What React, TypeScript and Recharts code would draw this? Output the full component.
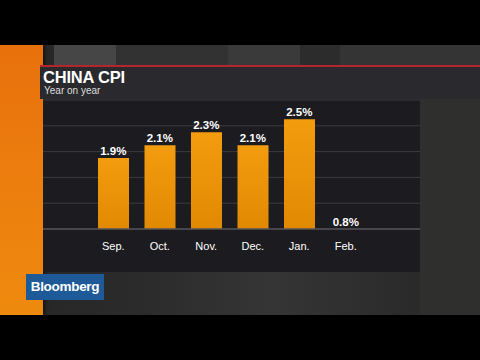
import { Bar, ComposedChart, LabelList, Line, ReferenceLine, XAxis, YAxis } from "recharts";

const months = ["Sep.", "Oct.", "Nov.", "Dec.", "Jan.", "Feb."];
const cpiYoY = [1.9, 2.1, 2.3, 2.1, 2.5, 0.8];
const gridTicks = [1.2, 1.6, 2.0, 2.4, 2.8];

const data = months.map((month, i) => ({ month, value: cpiYoY[i] }));

const font = "'Liberation Sans', Arial, sans-serif";
const W = 377;
const H = 173;
const margin = { top: 1, right: 0, bottom: 0, left: 0 };
const pad = { left: 47, right: 51 };

export default function App() {
  return (
    <div
      style={{
        position: "absolute",
        left: 0,
        top: 0,
        width: 480,
        height: 360,
        background: "#000",
        overflow: "hidden",
        fontFamily: font,
      }}
    >
      {/* studio backdrop */}
      <div
        style={{
          position: "absolute",
          left: 0,
          top: 45,
          width: 480,
          height: 270,
          background: "linear-gradient(90deg, #262626 0%, #2b2b2b 40%, #2e2f2d 100%)",
        }}
      />
      <div style={{ position: "absolute", left: 54, top: 45, width: 62, height: 21, background: "#464646" }} />
      <div style={{ position: "absolute", left: 116, top: 45, width: 112, height: 21, background: "#323232" }} />
      <div style={{ position: "absolute", left: 228, top: 45, width: 72, height: 21, background: "#3a3a3a" }} />
      <div style={{ position: "absolute", left: 300, top: 45, width: 40, height: 21, background: "#2c2c2c" }} />
      <div style={{ position: "absolute", left: 340, top: 45, width: 140, height: 21, background: "#343434" }} />
      <div style={{ position: "absolute", left: 420, top: 99, width: 60, height: 216, background: "#2f302e" }} />
      <div
        style={{
          position: "absolute",
          left: 43,
          top: 272,
          width: 377,
          height: 43,
          background: "linear-gradient(90deg, #272727 0%, #2c2c2c 30%, #353535 60%, #2a2a2a 100%)",
        }}
      />
      {/* orange strip */}
      <div
        style={{
          position: "absolute",
          left: 0,
          top: 45,
          width: 43,
          height: 270,
          background: "linear-gradient(180deg, #e8700c 0%, #ec7e0e 50%, #ee8a0e 100%)",
          boxShadow: "2px 0 3px rgba(0,0,0,0.5)",
        }}
      />
      {/* red rule and title band */}
      <div style={{ position: "absolute", left: 40, top: 65, width: 440, height: 2, background: "#b3262e" }} />
      <div style={{ position: "absolute", left: 40, top: 67, width: 440, height: 32, background: "#2a2a2e" }} />
      <div
        style={{
          position: "absolute",
          left: 43,
          top: 69,
          color: "#fff",
          fontWeight: 700,
          fontSize: 16.5,
          lineHeight: "16.5px",
          letterSpacing: -0.2,
        }}
      >
        CHINA CPI
      </div>
      <div style={{ position: "absolute", left: 44, top: 86, color: "#ddd", fontSize: 10, lineHeight: "10px" }}>
        Year on year
      </div>
      {/* chart panel */}
      <div style={{ position: "absolute", left: 43, top: 99, width: W, height: H, background: "#1c1c20" }}>
        {/* grid layer, same scales as the bars */}
        <div style={{ position: "absolute", left: 0, top: 0 }}>
          <ComposedChart width={W} height={H} data={data} margin={margin}>
            <XAxis dataKey="month" height={43} padding={pad} tick={false} tickLine={false} axisLine={false} />
            <YAxis hide domain={[0.8, 2.8]} allowDataOverflow />
            <Bar dataKey="value" fillOpacity={0} barSize={31} isAnimationActive={false} />
            {gridTicks.map((t) => (
              <ReferenceLine key={t} y={t} stroke="#3a3a40" strokeWidth={1} />
            ))}
          </ComposedChart>
        </div>
        <div style={{ position: "absolute", left: 0, top: 0 }}>
          <ComposedChart width={W} height={H} data={data} margin={margin}>
            <defs>
              <linearGradient id="barFill" x1="0" y1="0" x2="0" y2="1">
                <stop offset="0%" stopColor="#f39c0e" />
                <stop offset="100%" stopColor="#e28903" />
              </linearGradient>
            </defs>
            <XAxis
              dataKey="month"
              height={43}
              padding={pad}
              tickLine={false}
              axisLine={{ stroke: "#55555a", strokeWidth: 1.5 }}
              tickMargin={7}
              tick={{ fill: "#fff", fontSize: 11, fontFamily: font }}
            />
            <YAxis hide domain={[0.8, 2.8]} allowDataOverflow />
            <Bar dataKey="value" fill="url(#barFill)" barSize={31} isAnimationActive={false} />
            <Line dataKey="value" stroke="none" dot={false} activeDot={false} isAnimationActive={false}>
              <LabelList
                dataKey="value"
                position="top"
                offset={3}
                formatter={(v: number) => `${Number(v).toFixed(1)}%`}
                style={{ fill: "#fff", fontSize: 11.5, fontWeight: 700, fontFamily: font }}
              />
            </Line>
          </ComposedChart>
        </div>
      </div>
      {/* logo */}
      <div
        style={{
          position: "absolute",
          left: 26,
          top: 274,
          width: 78,
          height: 26,
          background: "#1d5a97",
          color: "#fff",
          fontSize: 13.5,
          fontWeight: 600,
          lineHeight: "26px",
          textAlign: "center",
          letterSpacing: -0.3,
        }}
      >
        Bloomberg
      </div>
    </div>
  );
}
